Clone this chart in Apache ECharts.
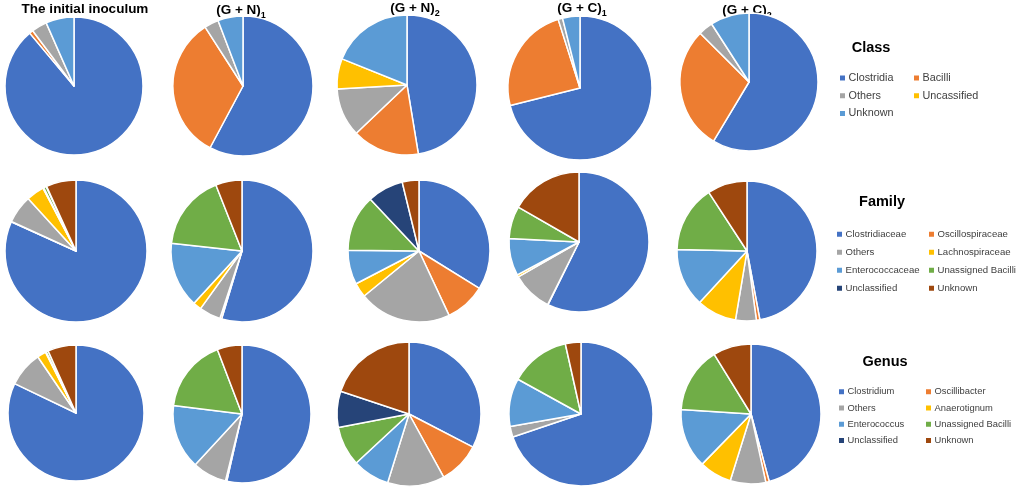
<!DOCTYPE html>
<html>
<head>
<meta charset="utf-8">
<script src="https://cdn.jsdelivr.net/npm/echarts@6/dist/echarts.min.js"></script>
<style>html,body{margin:0;padding:0;background:#fff;}#c{width:1017px;height:491px;}</style>
</head>
<body>
<div id="c"></div>
<script>
// ---- data ----
const columnTitles = ['The initial inoculum', '(G + N)', '(G + N)', '(G + C)', '(G + C)'];
const columnSubs = ['', '1', '2', '1', '2'];
const levelTitles = ['Class', 'Family', 'Genus'];

const classNames = ['Clostridia', 'Bacilli', 'Others', 'Uncassified', 'Unknown'];
const classColors = ['#4472C4', '#ED7D31', '#A5A5A5', '#FFC000', '#5B9BD5'];
const classInitial = [88.9, 0.9, 3.6, 0, 6.6];
const classGN1 = [57.8, 33.1, 3.3, 0, 5.8];
const classGN2 = [47.4, 15.5, 11.2, 7.0, 18.9];
const classGC1 = [71.1, 24.0, 1.0, 0, 3.9];
const classGC2 = [58.6, 28.9, 3.4, 0, 9.1];

const familyNames = ['Clostridiaceae', 'Oscillospiraceae', 'Others', 'Lachnospiraceae', 'Enterococcaceae', 'Unassigned Bacilli', 'Unclassified', 'Unknown'];
const familyColors = ['#4472C4', '#ED7D31', '#A5A5A5', '#FFC000', '#5B9BD5', '#70AD47', '#264478', '#9E480E'];
const familyInitial = [81.8, 0.1, 6.4, 4.1, 0.2, 0.6, 0.1, 6.8];
const familyGN1 = [54.7, 0.4, 4.9, 1.9, 14.9, 17.3, 0, 6.0];
const familyGN2 = [33.8, 9.2, 21.0, 3.3, 7.8, 12.8, 8.2, 3.8];
const familyGC1 = [57.3, 0.1, 9.3, 0.5, 8.6, 7.5, 0, 16.7];
const familyGC2 = [47.1, 0.8, 4.8, 9.2, 13.5, 15.5, 0, 9.2];

const genusNames = ['Clostridium', 'Oscillibacter', 'Others', 'Anaerotignum', 'Enterococcus', 'Unassigned Bacilli', 'Unclassified', 'Unknown'];
const genusColors = ['#4472C4', '#ED7D31', '#A5A5A5', '#FFC000', '#5B9BD5', '#70AD47', '#264478', '#9E480E'];
const genusInitial = [82.1, 0, 8.4, 2.1, 0.2, 0.5, 0, 6.7];
const genusGN1 = [53.5, 0.3, 8.0, 0, 15.1, 17.2, 0, 5.8];
const genusGN2 = [32.6, 9.4, 12.8, 0, 8.3, 8.9, 8.1, 19.9];
const genusGC1 = [69.9, 0, 2.4, 0, 10.8, 13.5, 0, 3.5];
const genusGC2 = [45.8, 0.8, 8.2, 7.5, 13.7, 15.2, 0, 8.8];

// ---- layout ----
const FONT = '"Liberation Sans", Arial, sans-serif';
const levels = [
  { names: classNames, colors: classColors, values: [classInitial, classGN1, classGN2, classGC1, classGC2],
    centers: [[74, 86], [243, 86], [407, 85], [580, 88], [749, 82]], radii: [69, 70, 70, 72, 69],
    title: [871, 40], fs: 10.8, rowFirst: 78, rowStep: 17.5, legendCols: [838, 912] },
  { names: familyNames, colors: familyColors, values: [familyInitial, familyGN1, familyGN2, familyGC1, familyGC2],
    centers: [[76, 251], [242, 251], [419, 251], [579, 242], [747, 251]], radii: [71, 71, 71, 70, 70],
    title: [882, 194], fs: 9.6, rowFirst: 234, rowStep: 17.6, legendCols: [835, 927] },
  { names: genusNames, colors: genusColors, values: [genusInitial, genusGN1, genusGN2, genusGC1, genusGC2],
    centers: [[76, 413], [242, 414], [409, 414], [581, 414], [751, 414]], radii: [68, 69, 72, 72, 70],
    title: [885, 354], fs: 9.4, rowFirst: 392, rowStep: 16.6, legendCols: [837, 924] }
];
const titleX = [85, 241, 415, 582, 747];
const titleY = [2, 3, 1, 1, 3];

const series = [];
const legends = [];
const graphics = [];

levels.forEach((lv, li) => {
  lv.values.forEach((vals, ci) => {
    const data = [];
    vals.forEach((v, k) => {
      if (v > 0) data.push({ name: lv.names[k], value: v, itemStyle: { color: lv.colors[k] } });
    });
    series.push({
      type: 'pie',
      center: lv.centers[ci],
      radius: lv.radii[ci],
      startAngle: 90,
      clockwise: true,
      label: { show: false },
      labelLine: { show: false },
      emphasis: { disabled: true },
      itemStyle: { borderColor: '#ffffff', borderWidth: 1.5 },
      data: data
    });
  });
  [0, 1].forEach(col => {
    const items = [];
    lv.names.forEach((n, k) => {
      if (k % 2 === col) items.push({ name: n, itemStyle: { color: lv.colors[k] } });
    });
    legends.push({
      orient: 'vertical',
      left: lv.legendCols[col],
      top: lv.rowFirst - lv.fs / 2,
      padding: 0,
      itemWidth: 7,
      itemHeight: 7,
      itemGap: lv.rowStep - lv.fs,
      icon: 'rect',
      selectedMode: false,
      textStyle: { fontFamily: FONT, fontSize: lv.fs, color: '#404040', padding: [0, 0, 0, -2.5] },
      data: items
    });
  });
  graphics.push({
    type: 'text', x: lv.title[0], y: lv.title[1],
    style: { text: levelTitles[li], fontFamily: FONT, fontSize: 14.5, fontWeight: 'bold', fill: '#000',
      textAlign: 'center', textVerticalAlign: 'top', align: 'center', verticalAlign: 'top' }
  });
});

columnTitles.forEach((t, i) => {
  const style = {
    text: t, fontFamily: FONT, fontSize: 13.5, fontWeight: 'bold', fill: '#000',
    textAlign: 'center', textVerticalAlign: 'top', align: 'center', verticalAlign: 'top'
  };
  if (columnSubs[i]) {
    style.text = '{m|' + t + '}{s|' + columnSubs[i] + '}';
    style.rich = {
      m: { fontFamily: FONT, fontSize: 13.5, fontWeight: 'bold', fill: '#000', lineHeight: 18, verticalAlign: 'top' },
      s: { fontFamily: FONT, fontSize: 9, fontWeight: 'bold', fill: '#000', lineHeight: 18, verticalAlign: 'bottom', padding: [0, 0, 1, 0] }
    };
  }
  graphics.push({ type: 'text', x: titleX[i], y: titleY[i], style: style });
});

const chart = echarts.init(document.getElementById('c'));
chart.setOption({
  animation: false,
  backgroundColor: '#ffffff',
  legend: legends,
  series: series,
  graphic: graphics
});
</script>
</body>
</html>
